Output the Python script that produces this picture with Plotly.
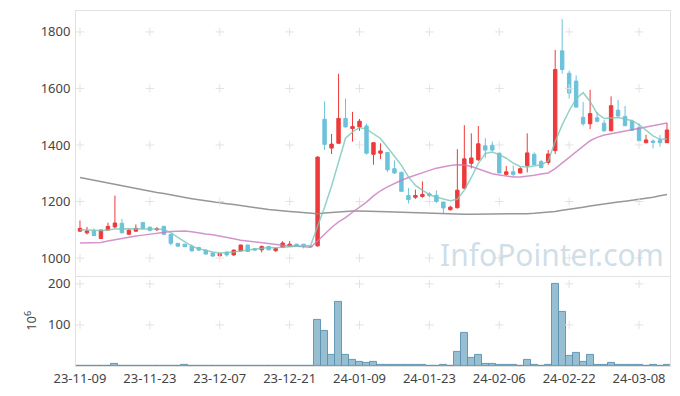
import plotly.graph_objects as go

dates = [
    "2023-11-09","2023-11-10","2023-11-13","2023-11-14","2023-11-15","2023-11-16","2023-11-17","2023-11-20","2023-11-21","2023-11-22",
    "2023-11-23","2023-11-24","2023-11-27","2023-11-28","2023-11-29","2023-11-30","2023-12-01","2023-12-04","2023-12-05","2023-12-06",
    "2023-12-07","2023-12-08","2023-12-11","2023-12-12","2023-12-13","2023-12-14","2023-12-15","2023-12-18","2023-12-19","2023-12-20",
    "2023-12-21","2023-12-22","2023-12-26","2023-12-27","2023-12-28","2024-01-02","2024-01-03","2024-01-04","2024-01-05","2024-01-08",
    "2024-01-09","2024-01-10","2024-01-11","2024-01-12","2024-01-15","2024-01-16","2024-01-17","2024-01-18","2024-01-19","2024-01-22",
    "2024-01-23","2024-01-24","2024-01-25","2024-01-26","2024-01-29","2024-01-30","2024-01-31","2024-02-01","2024-02-02","2024-02-05",
    "2024-02-06","2024-02-07","2024-02-08","2024-02-13","2024-02-14","2024-02-15","2024-02-16","2024-02-19","2024-02-20","2024-02-21",
    "2024-02-22","2024-02-23","2024-02-26","2024-02-27","2024-02-28","2024-02-29","2024-03-04","2024-03-05","2024-03-06","2024-03-07",
    "2024-03-08","2024-03-11","2024-03-12","2024-03-13","2024-03-14",
]

open_ = [1095,1089,1096,1069,1099,1110,1123,1084,1095,1126,1109,1100,1112,1084,1052,1049,1042,1037,1028,1018,
         1008,1021,1011,1025,1046,1033,1029,1041,1026,1038,1042,1049,1049,1042,1043,1491,1389,1406,1494,1458,
         1464,1467,1367,1371,1373,1316,1303,1221,1215,1218,1227,1222,1198,1171,1178,1247,1335,1348,1397,1399,
         1371,1296,1305,1301,1327,1367,1341,1338,1380,1733,1654,1626,1498,1475,1496,1477,1450,1523,1501,1484,
         1461,1408,1414,1418,1408]
high = [1133,1110,1105,1100,1125,1221,1139,1105,1119,1127,1112,1110,1114,1085,1053,1050,1048,1040,1030,1019,
        1016,1023,1030,1047,1047,1035,1044,1043,1035,1060,1060,1050,1050,1043,1360,1554,1439,1652,1564,1517,
        1492,1475,1410,1406,1375,1345,1306,1248,1242,1271,1233,1239,1199,1185,1385,1470,1441,1467,1424,1412,
        1373,1326,1327,1322,1441,1374,1347,1382,1736,1845,1663,1646,1552,1595,1517,1488,1572,1560,1538,1490,
        1476,1436,1419,1435,1478]
low = [1093,1083,1078,1068,1097,1105,1088,1082,1093,1102,1094,1096,1082,1045,1040,1039,1024,1025,1012,1003,
       1005,1005,1008,1024,1022,1026,1020,1028,1022,1036,1040,1042,1034,1038,1040,1383,1368,1405,1461,1412,
       1450,1366,1330,1350,1305,1297,1235,1193,1209,1213,1215,1195,1158,1168,1175,1246,1317,1343,1353,1377,
       1300,1292,1289,1299,1303,1330,1317,1330,1368,1652,1564,1533,1468,1456,1480,1447,1449,1497,1467,1451,
       1414,1406,1388,1394,1407]
close = [1105,1096,1079,1099,1112,1124,1089,1098,1105,1105,1098,1103,1084,1052,1042,1040,1025,1028,1014,1007,
         1015,1011,1028,1046,1023,1028,1041,1029,1034,1053,1049,1043,1043,1040,1357,1402,1403,1494,1464,1465,
         1484,1371,1408,1379,1312,1301,1236,1207,1221,1225,1221,1200,1177,1180,1240,1351,1354,1404,1382,1382,
         1301,1305,1296,1316,1372,1331,1320,1368,1667,1667,1584,1534,1475,1511,1484,1450,1539,1503,1468,1452,
         1415,1418,1409,1408,1453]

volume_m = [0,0,0,0,0,6,0,0,0,0,0,0,0,0,0,2,0,0,0,0,
            0,0,0,0,0,0,0,0,0,0,0,0,0,0,112,85,28,155,28,15,
            10,7.5,10,3,3,3,3,3,3,3,0,0,3,0,35,80,20,28,5,5,
            3,3,3,0,15,3,0,3,200,132,24,33,10,27,3,3,8,3,3,3,
            3,0,2,0,2]

ma_short = [1100,1099,1098,1097,1099,1103,1104,1104,1105,1104,1104,1103,1101,1090,1073,1056,1042,1033,1027,1021,
            1018,1019,1021,1025,1028,1031,1034,1037,1036,1038,1041,1042,1043,1044,1110,1180,1255,1340,1424,1446,
            1462,1456,1440,1423,1392,1360,1328,1287,1257,1240,1224,1215,1209,1203,1208,1240,1285,1335,1370,1375,
            1366,1353,1336,1324,1322,1326,1330,1343,1412,1471,1521,1564,1585,1554,1511,1494,1496,1497,1492,1486,
            1472,1451,1432,1420,1421]

ma_mid = [1053,1053,1054,1055,1060,1065,1070,1074,1078,1081,1084,1088,1092,1094,1095,1096,1093,1088,1085,1082,
          1078,1074,1068,1063,1060,1056,1052,1049,1047,1045,1043,1041,1040,1038,1060,1085,1108,1128,1143,1162,
          1180,1198,1220,1238,1252,1265,1275,1285,1294,1302,1310,1318,1323,1327,1330,1329,1324,1316,1306,1298,
          1294,1290,1287,1287,1289,1293,1297,1301,1316,1336,1356,1377,1398,1415,1427,1435,1440,1445,1450,1454,
          1458,1463,1468,1474,1478]

ma_long = [1285,1280,1275,1270,1265,1260,1256,1251,1246,1241,1237,1232,1228,1223,1218,1214,1210,1206,1202,1199,
           1196,1192,1189,1185,1182,1178,1175,1172,1169,1167,1165,1163,1161,1159,1157,1159,1161,1163,1165,1166,
           1166,1166,1166,1165,1164,1163,1162,1161,1160,1159,1158,1157,1156,1155,1155,1155,1155,1155,1155,1155,
           1155,1156,1156,1157,1157,1158,1160,1162,1165,1169,1172,1176,1180,1184,1188,1191,1195,1198,1201,1204,
           1207,1211,1215,1220,1225]

tick_dates = ["2023-11-09","2023-11-23","2023-12-07","2023-12-21","2024-01-09",
              "2024-01-23","2024-02-06","2024-02-22","2024-03-08"]
tick_labels = ["23-11-09","23-11-23","23-12-07","23-12-21","24-01-09",
               "24-01-23","24-02-06","24-02-22","24-03-08"]
price_ticks = [1000, 1200, 1400, 1600, 1800]
vol_ticks = [100, 200]

RED = "#ee3a3a"
BLUE = "#6cc2da"
FONT = "Noto Sans"

fig = go.Figure()

fig.add_trace(go.Scatter(x=dates, y=ma_long, mode="lines",
                         line=dict(color="rgba(140,140,140,0.9)", width=1.5),
                         showlegend=False, xaxis="x", yaxis="y"))
fig.add_trace(go.Scatter(x=dates, y=ma_mid, mode="lines",
                         line=dict(color="rgba(200,120,190,0.8)", width=1.5),
                         showlegend=False, xaxis="x", yaxis="y"))

fig.add_trace(go.Candlestick(
    x=dates, open=open_, high=high, low=low, close=close,
    increasing=dict(line=dict(color=RED, width=1), fillcolor=RED),
    decreasing=dict(line=dict(color=BLUE, width=1), fillcolor=BLUE),
    whiskerwidth=0, showlegend=False, xaxis="x", yaxis="y"))

fig.add_trace(go.Scatter(x=dates, y=ma_short, mode="lines",
                         line=dict(color="rgba(120,198,185,0.8)", width=1.5),
                         showlegend=False, xaxis="x", yaxis="y"))

fig.add_trace(go.Bar(x=dates, y=volume_m,
                     marker=dict(color="rgba(140,184,204,0.9)",
                                 line=dict(color="rgba(90,145,175,0.9)", width=1)),
                     showlegend=False, xaxis="x2", yaxis="y2"))

# grid crosses at tick intersections
fig.add_trace(go.Scatter(
    x=[d for d in tick_dates for _ in price_ticks],
    y=[p for _ in tick_dates for p in price_ticks],
    mode="markers", marker=dict(symbol="cross-thin", size=6, line=dict(color="#e2e2e2", width=1)),
    hoverinfo="skip", showlegend=False, xaxis="x", yaxis="y"))
fig.add_trace(go.Scatter(
    x=[d for d in tick_dates for _ in vol_ticks],
    y=[p for _ in tick_dates for p in vol_ticks],
    mode="markers", marker=dict(symbol="cross-thin", size=6, line=dict(color="#e2e2e2", width=1)),
    hoverinfo="skip", showlegend=False, xaxis="x2", yaxis="y2"))

xr = [-0.57, 84.43]
axis_common = dict(type="category", categoryorder="array", categoryarray=dates,
                   range=xr, showgrid=False, zeroline=False,
                   showline=True, linecolor="#e2e2e2", mirror=True,
                   tickmode="array", tickvals=tick_dates, ticktext=tick_labels, tickangle=0,
                   ticks="", tickfont=dict(family=FONT, size=13, color="#444"),
                   rangeslider=dict(visible=False))

yaxis_common = dict(showgrid=False, zeroline=False, showline=True, linecolor="#e2e2e2", mirror=True,
                    ticks="", ticklabelstandoff=2, tickfont=dict(family=FONT, size=13, color="#444"))

fig.update_layout(
    width=680, height=396,
    margin=dict(l=76, r=9, t=10, b=28),
    paper_bgcolor="white", plot_bgcolor="white",
    bargap=0,
    font=dict(family=FONT, color="#444"),
    xaxis=dict(axis_common, anchor="y", showticklabels=False),
    xaxis2=dict(axis_common, anchor="y2", matches="x"),
    yaxis=dict(yaxis_common, domain=[0.254, 1], range=[937, 1874], tickvals=price_ticks),
    yaxis2=dict(yaxis_common, domain=[0, 0.251], range=[0, 217], tickvals=vol_ticks),
    annotations=[
        dict(text="InfoPointer.com", xref="paper", yref="paper", x=0.802, y=0.313,
             xanchor="center", yanchor="middle",
             showarrow=False, font=dict(family=FONT, size=30, color="rgba(175,200,215,0.6)")),
        dict(text="10<sup>6</sup>", xref="paper", yref="paper", x=-0.077, y=0.128,
             xanchor="center", yanchor="middle",
             showarrow=False, textangle=-90, font=dict(family=FONT, size=13, color="#444")),
    ],
)

fig.write_html("out.html", config={"displayModeBar": False},
               post_script="document.body.style.margin='0';")
